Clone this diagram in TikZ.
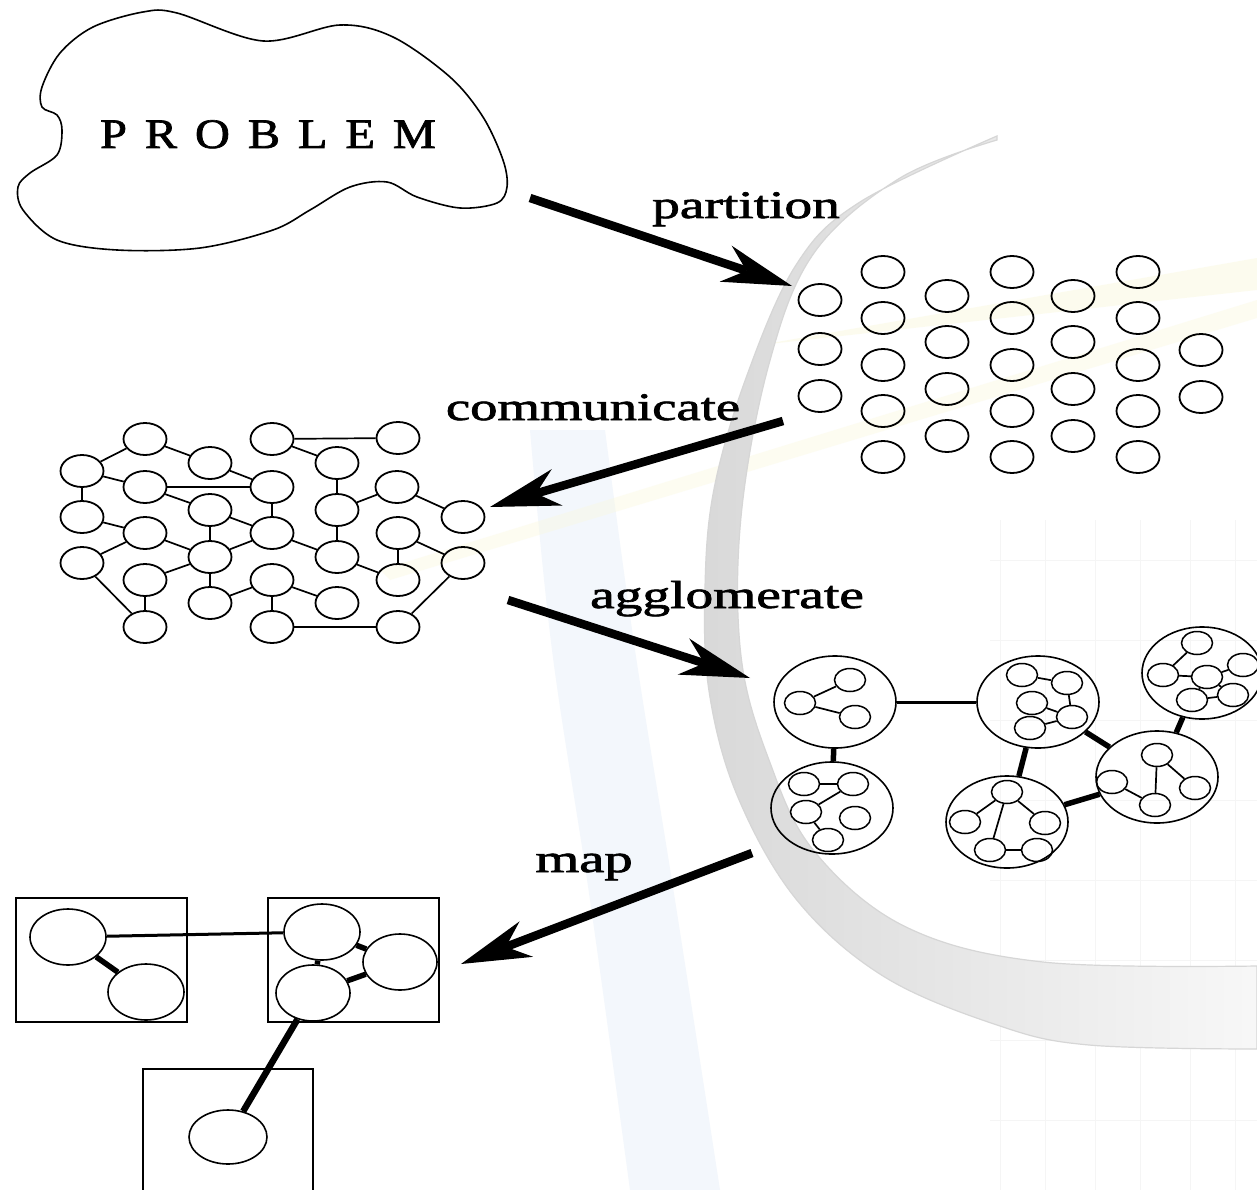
\documentclass[tikz,border=0pt]{standalone}
\usepackage{graphicx}
\usepackage{fontspec}
\setmainfont{Liberation Serif}
\newfontfamily\labelfont[FakeBold=1.6]{Liberation Serif}
\usetikzlibrary{shapes.geometric,arrows.meta}
\definecolor{haze}{RGB}{236,242,250}
\definecolor{glow}{RGB}{250,249,222}
\begin{document}
\begin{tikzpicture}[x=1pt,y=-1pt,
  dot/.style={draw,ellipse,line width=1.8pt,minimum width=43pt,minimum height=32pt,inner sep=0pt},
  sm/.style={draw,ellipse,line width=1.5pt,minimum width=31pt,minimum height=23pt,inner sep=0pt},
  grp/.style={draw,ellipse,line width=1.6pt,minimum width=122pt,minimum height=92pt,inner sep=0pt},
  proc/.style={draw,ellipse,line width=1.6pt,minimum width=76pt,minimum height=56pt,inner sep=0pt},
  box/.style={draw,rectangle,line width=1.8pt,inner sep=0pt},
  lnk/.style={line width=1.7pt},
  mid/.style={line width=3pt},
  fat/.style={line width=5.5pt},
  flow/.style={line width=8.5pt,-{Stealth[length=70pt,width=38pt,inset=22pt,line width=0pt]}},
  lbl/.style={inner sep=0pt,anchor=base,font=\labelfont\fontsize{39}{44}\selectfont}
]
\useasboundingbox (0,0) rectangle (1257,1190);
\fill[white] (0,0) rectangle (1257,1190);

% ---- background decoration ----
% faint grid in the lower right
\foreach \gx in {1000,1045,1095,1140,1190,1235}
  \draw[black!4,line width=1pt] (\gx,520) -- (\gx,1190);
\foreach \gy in {560,640,720,800,880,960,1040,1120}
  \draw[black!4,line width=1pt] (990,\gy) -- (1257,\gy);
% pale blue stripe
\fill[haze,opacity=0.6] plot[smooth,tension=0.6] coordinates {(530,430) (552,650) (590,900) (630,1190)}
  -- plot[smooth,tension=0.6] coordinates {(720,1190) (675,900) (635,650) (605,430)} -- cycle;
% pale yellow streaks
\fill[glow,opacity=0.5] (1257,258) -- (1257,290) -- (760,345) -- cycle;
\fill[glow,opacity=0.4] (1257,300) -- (1257,318) -- (390,580) -- (380,570) -- cycle;
% grey swoosh
\shade[left color=black!15,right color=black!3,draw=black!16,line width=1.2pt]
  plot[smooth,tension=0.6] coordinates {(997,136) (860,202) (796,265) (746,378) (714,489) (705,587)
    (709,691) (737,795) (796,899) (883,976) (997,1025) (1089,1045) (1257,1049)}
  -- plot[smooth,tension=0.6] coordinates {(1257,966) (1043,962) (906,927) (814,851) (769,760)
    (741,656) (741,517) (769,364) (814,253) (900,178) (997,140)} -- cycle;

% ---- problem cloud ----
\draw[line width=1.6pt] plot[smooth cycle,tension=0.55] coordinates {
  (143,12) (177,13) (263,41) (340,25) (393,37) (450,77) (483,117) (503,160) (507,187)
  (497,203) (460,208) (417,197) (387,182) (350,187) (310,210) (273,230) (200,248)
  (117,250) (57,240) (23,210) (18,187) (30,173) (57,155) (62,130) (57,115) (42,107)
  (42,87) (60,53) (93,27)};
\node[inner sep=0pt,anchor=base,font=\labelfont\fontsize{42}{46}\selectfont] (prob) at (268,148)
  {\scalebox{1.15}[1]{P\hspace{15.6pt}R\hspace{15.6pt}O\hspace{15.6pt}B\hspace{15.6pt}L\hspace{15.6pt}E\hspace{15.6pt}M}};

% ---- partitioned tasks ----
\foreach \px/\py [count=\i] in {820/300,820/349,820/396,
  883/272,883/318,883/365,883/411,883/457,
  947/296,947/342,947/389,947/436,
  1012/272,1012/318,1012/365,1012/411,1012/457,
  1073/296,1073/342,1073/389,1073/436,
  1138/272,1138/318,1138/365,1138/411,1138/457,
  1201/350,1201/397}
  \node[dot] (p\i) at (\px,\py) {};

% ---- communication graph ----
\foreach \px/\py [count=\i] in {145/439,272/439,398/438,82/471,210/463,337/463,
  145/487,272/487,397/487,463/517,82/517,210/510,337/510,
  145/533,272/533,398/533,82/563,210/557,337/557,463/563,
  145/580,272/580,398/580,210/603,337/603,145/627,272/627,398/627}
  \node[dot] (g\i) at (\px,\py) {};
\foreach \u/\v in {1/4,1/5,2/3,2/6,4/7,4/11,5/8,7/8,7/12,6/13,8/15,13/9,9/10,
  12/15,12/18,11/14,13/19,15/19,14/17,14/18,15/18,16/23,16/20,19/23,18/21,
  18/24,21/26,17/26,22/24,22/27,22/25,27/28,28/20}
  \draw[lnk] (g\u) -- (g\v);

% ---- agglomerated groups ----
\node[grp] (A) at (835,702) {};
\node[grp] (B) at (832,808) {};
\node[grp] (C) at (1038,702) {};
\node[grp] (D) at (1007,822) {};
\node[grp] (E) at (1157,777) {};
\node[grp,minimum width=120pt] (F) at (1202,673) {};

\node[sm] (a1) at (850,680) {};
\node[sm] (a2) at (800,703) {};
\node[sm] (a3) at (855,717) {};
\draw[lnk] (a2) -- (a1); \draw[lnk] (a2) -- (a3);

\node[sm] (b1) at (804,784) {};
\node[sm] (b2) at (853,784) {};
\node[sm] (b3) at (806,812) {};
\node[sm] (b4) at (855,818) {};
\node[sm] (b5) at (828,840) {};
\draw[lnk] (b1) -- (b2); \draw[lnk] (b2) -- (b3); \draw[lnk] (b3) -- (b5);

\node[sm] (c1) at (1022,675) {};
\node[sm] (c2) at (1067,683) {};
\node[sm] (c3) at (1032,703) {};
\node[sm] (c4) at (1072,717) {};
\node[sm] (c5) at (1030,728) {};
\draw[lnk] (c1) -- (c2); \draw[lnk] (c2) -- (c4); \draw[lnk] (c3) -- (c4); \draw[lnk] (c4) -- (c5);

\node[sm] (d1) at (1007,792) {};
\node[sm] (d2) at (965,822) {};
\node[sm] (d3) at (1045,823) {};
\node[sm] (d4) at (990,850) {};
\node[sm] (d5) at (1037,850) {};
\draw[lnk] (d1) -- (d2); \draw[lnk] (d1) -- (d3); \draw[lnk] (d1) -- (d4); \draw[lnk] (d4) -- (d5);

\node[sm] (e1) at (1157,755) {};
\node[sm] (e2) at (1112,782) {};
\node[sm] (e3) at (1195,788) {};
\node[sm] (e4) at (1155,805) {};
\draw[lnk] (e1) -- (e4); \draw[lnk] (e1) -- (e3); \draw[lnk] (e2) -- (e4);

\node[sm] (f1) at (1197,643) {};
\node[sm] (f2) at (1163,675) {};
\node[sm] (f3) at (1207,677) {};
\node[sm] (f4) at (1243,665) {};
\node[sm] (f5) at (1192,700) {};
\node[sm] (f6) at (1233,695) {};
\draw[lnk] (f1) -- (f2); \draw[lnk] (f2) -- (f3); \draw[lnk] (f3) -- (f4);
\draw[lnk] (f3) -- (f5); \draw[lnk] (f3) -- (f6); \draw[lnk] (f5) -- (f6);

\draw[mid] (A) -- (C);
\draw[fat] (A) -- (B);
\draw[fat] (C) -- (D);
\draw[fat] (C) -- (E);
\draw[fat] (D) -- (E);
\draw[fat] (E) -- (F);

% ---- mapping onto processors ----
\node[box,minimum width=171pt,minimum height=124pt] (bx1) at (101.5,960) {};
\node[box,minimum width=171pt,minimum height=124pt] (bx2) at (353.5,960) {};
\node[box,minimum width=170pt,minimum height=130pt] (bx3) at (228,1134) {};
\node[proc] (m1) at (68,937) {};
\node[proc] (m2) at (146,992) {};
\node[proc] (m3) at (322,932) {};
\node[proc,minimum width=74pt] (m4) at (400,962) {};
\node[proc,minimum width=74pt] (m5) at (313,993) {};
\node[proc,minimum width=78pt,minimum height=54pt] (m6) at (228,1137) {};
\draw[mid] (m1) -- (m3);
\draw[fat] (m1) -- (m2);
\draw[fat] (m3) -- (m5);
\draw[fat] (m3) -- (m4);
\draw[fat] (m5) -- (m4);
\draw[line width=6.5pt] (m5) -- (m6);

% ---- step arrows and labels ----
\coordinate (s1) at (530,198);  \coordinate (t1) at (792,286);
\coordinate (s2) at (783,421);  \coordinate (t2) at (490,507);
\coordinate (s3) at (508,600);  \coordinate (t3) at (750,678);
\coordinate (s4) at (752,853);  \coordinate (t4) at (461,964);
\draw[flow] (s1) -- (t1);
\draw[flow] (s2) -- (t2);
\draw[flow] (s3) -- (t3);
\draw[flow] (s4) -- (t4);
\node[lbl] (l1) at (746,218) {\scalebox{1.42}[1]{partition}};
\node[lbl] (l2) at (593,420) {\scalebox{1.40}[1]{communicate}};
\node[lbl] (l3) at (727,608) {\scalebox{1.42}[1]{agglomerate}};
\node[lbl] (l4) at (584,872) {\scalebox{1.45}[1]{map}};
\end{tikzpicture}
\end{document}
